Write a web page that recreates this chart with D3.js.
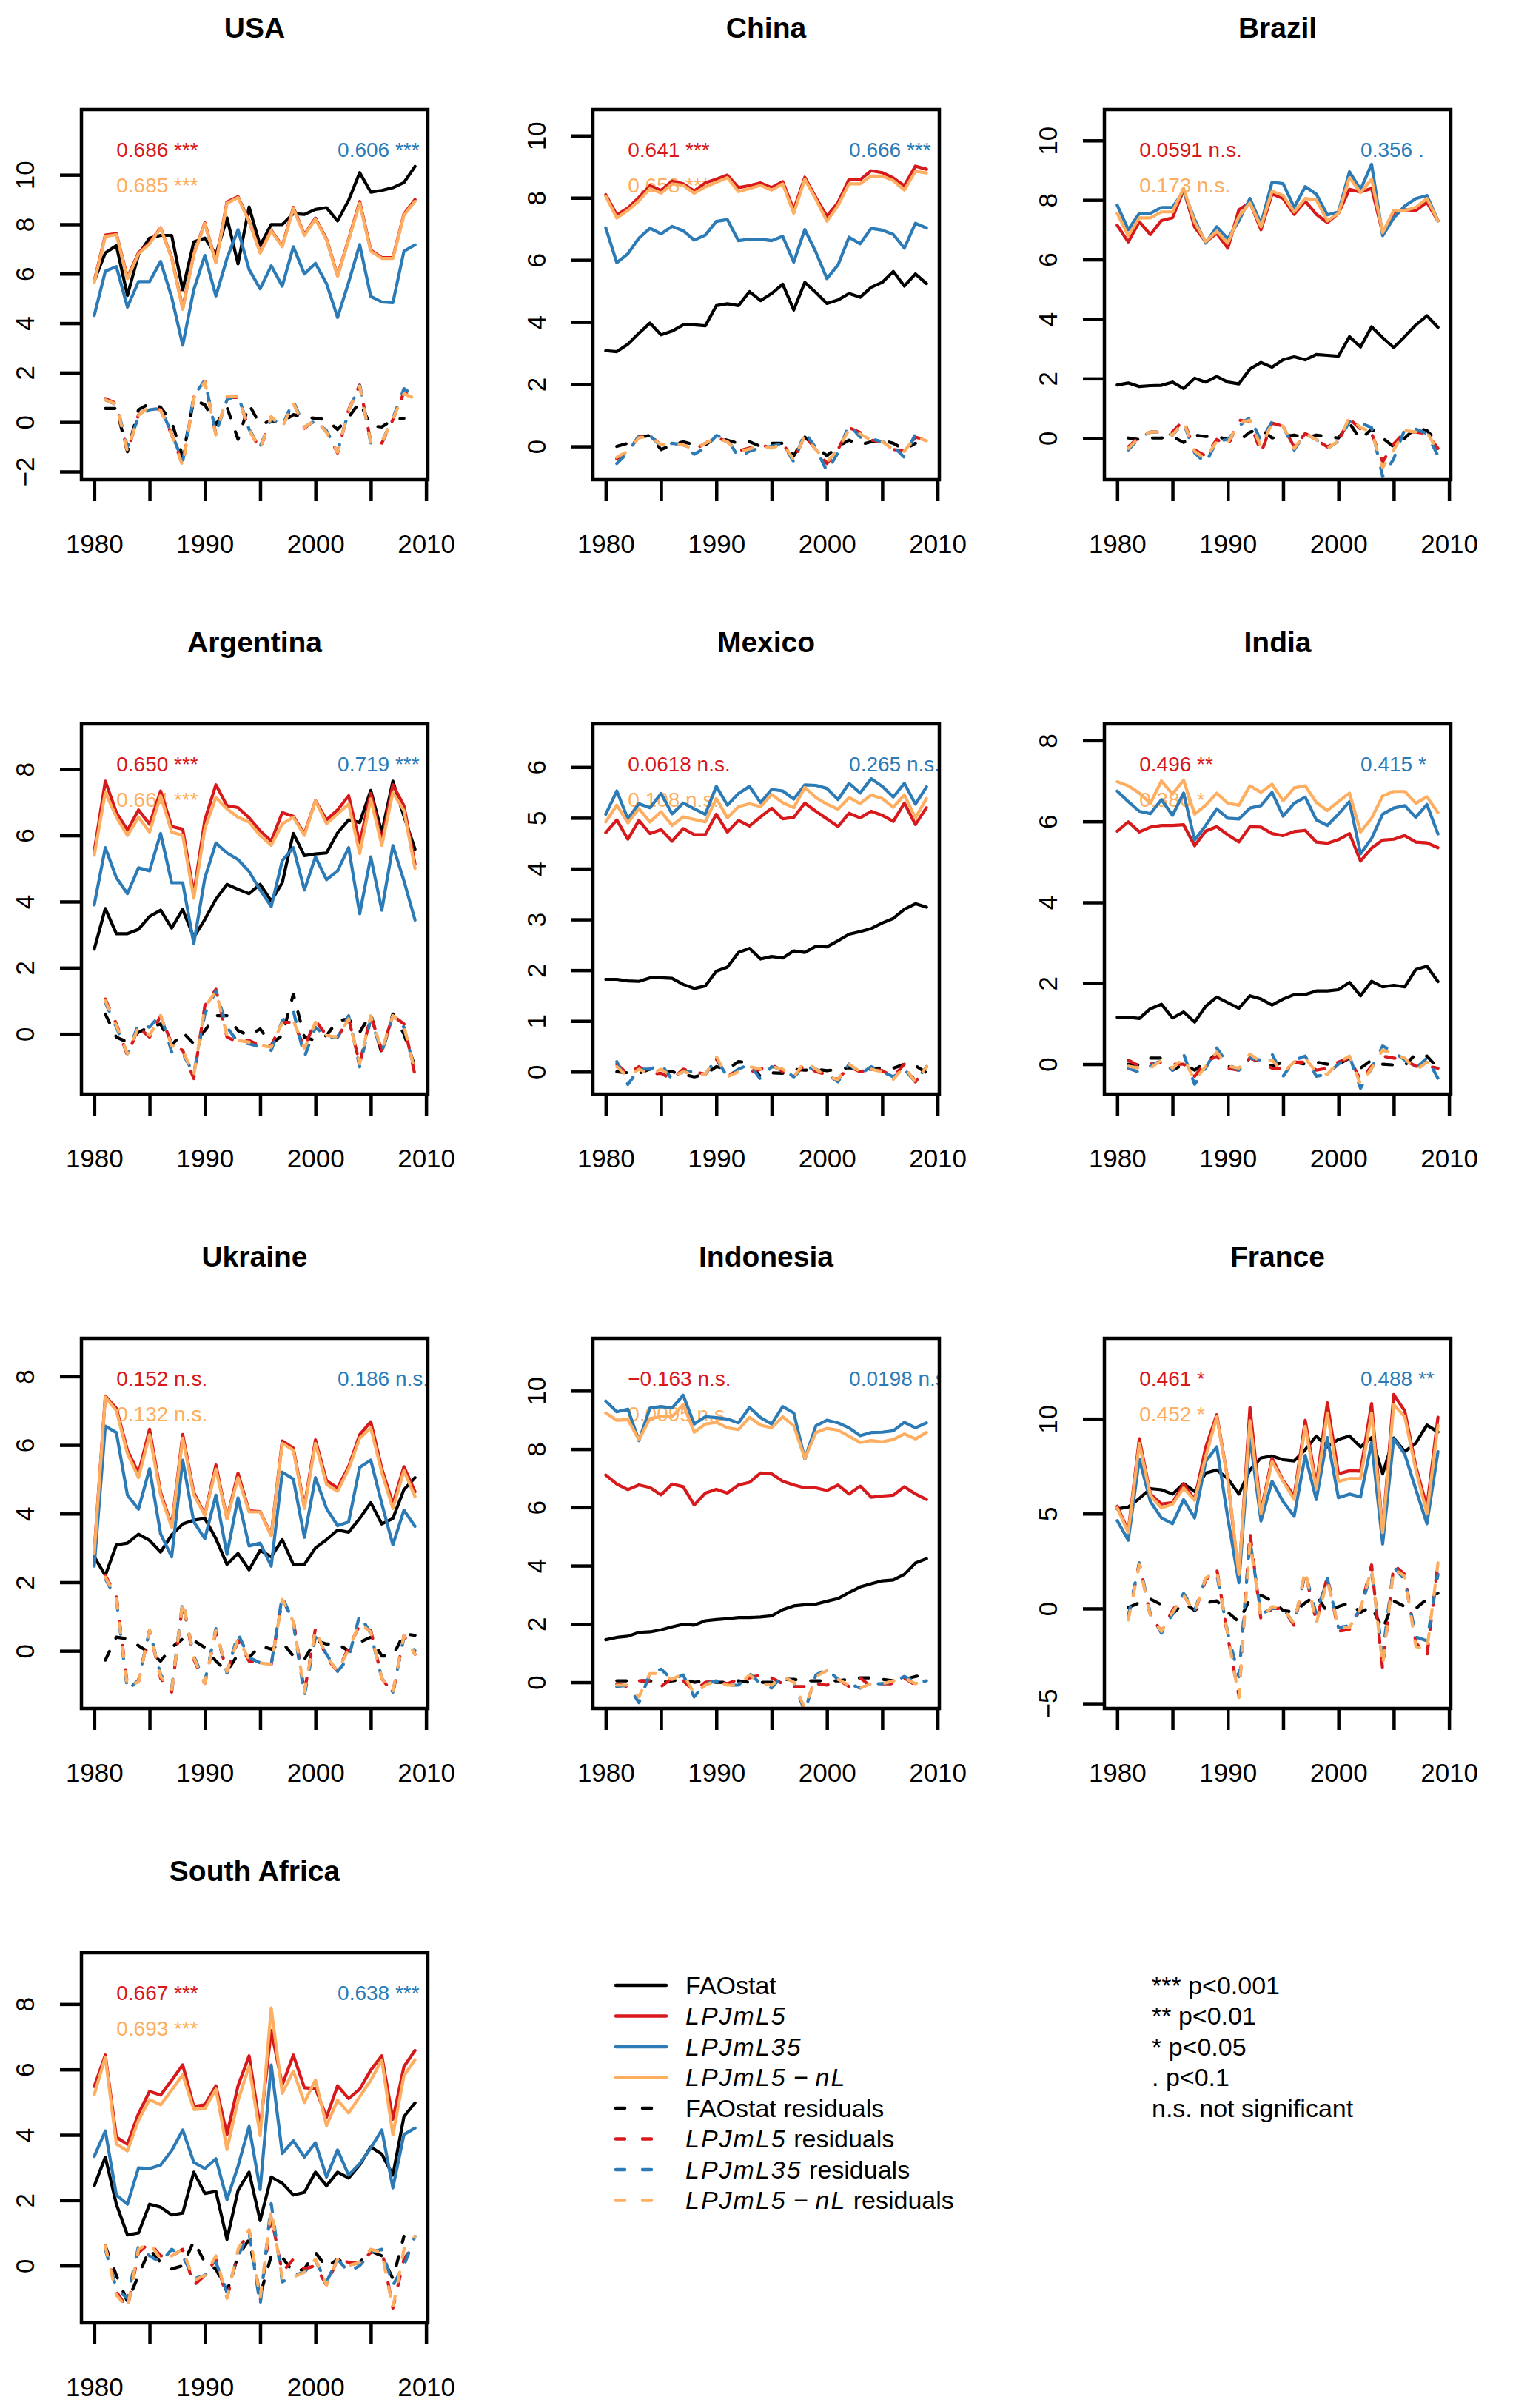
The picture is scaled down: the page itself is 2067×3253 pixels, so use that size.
<!DOCTYPE html>
<html>
<head>
<meta charset="utf-8">
<script src="https://cdn.jsdelivr.net/npm/d3@7/dist/d3.min.js"></script>
<style>
  body { margin: 0; background: #fff; }
  text { font-family: "Liberation Sans", Arial, Helvetica, sans-serif; }
</style>
</head>
<body>
<svg id="chart"></svg>
<script>
const countries = ["USA", "China", "Brazil", "Argentina", "Mexico", "India", "Ukraine", "Indonesia", "France", "South Africa"];
const years = [1980, 1981, 1982, 1983, 1984, 1985, 1986, 1987, 1988, 1989, 1990, 1991, 1992, 1993, 1994,
  1995, 1996, 1997, 1998, 1999, 2000, 2001, 2002, 2003, 2004, 2005, 2006, 2007, 2008, 2009];
const xTicks = [1980, 1985, 1990, 1995, 2000, 2005, 2010];
const xLabels = [1980, 1990, 2000, 2010];

// y limits and tick values, one entry per country
const yLimits = [[-2.33, 12.64], [-1.07, 10.84], [-1.40, 11.04], [-1.82, 9.37], [-0.44, 6.85],
  [-0.74, 8.41], [-1.68, 9.11], [-0.9, 11.8], [-5.27, 14.24], [-1.75, 9.57]];
const yTicks = [[-2, 0, 2, 4, 6, 8, 10], [0, 2, 4, 6, 8, 10], [0, 2, 4, 6, 8, 10], [0, 2, 4, 6, 8],
  [0, 1, 2, 3, 4, 5, 6], [0, 2, 4, 6, 8], [0, 2, 4, 6, 8], [0, 2, 4, 6, 8, 10], [-5, 0, 5, 10], [0, 2, 4, 6, 8]];

// correlation labels
const corrL5 = ["0.686 ***", "0.641 ***", "0.0591 n.s.", "0.650 ***", "0.0618 n.s.", "0.496 **", "0.152 n.s.", "\u22120.163 n.s.", "0.461 *", "0.667 ***"];
const corrL5nL = ["0.685 ***", "0.658 ***", "0.173 n.s.", "0.664 ***", "0.108 n.s.", "0.386 *", "0.132 n.s.", "0.0095 n.s.", "0.452 *", "0.693 ***"];
const corrL35 = ["0.606 ***", "0.666 ***", "0.356 .", "0.719 ***", "0.265 n.s.", "0.415 *", "0.186 n.s.", "0.0198 n.s.", "0.488 **", "0.638 ***"];

const faostat = [
  [5.72, 6.84, 7.14, 5.12, 6.77, 7.44, 7.55, 7.55, 5.35, 7.29, 7.44, 6.77, 8.26, 6.4, 8.7, 7.14, 7.99, 7.99, 8.43, 8.4, 8.6, 8.67, 8.14, 8.97, 10.09, 9.3, 9.37, 9.48, 9.69, 10.34],
  [3.08, 3.05, 3.29, 3.64, 3.97, 3.59, 3.71, 3.91, 3.91, 3.88, 4.53, 4.59, 4.53, 4.98, 4.69, 4.92, 5.22, 4.39, 5.28, 4.95, 4.6, 4.71, 4.92, 4.8, 5.12, 5.28, 5.63, 5.16, 5.55, 5.24],
  [1.78, 1.85, 1.73, 1.76, 1.77, 1.88, 1.66, 2.01, 1.88, 2.07, 1.88, 1.82, 2.32, 2.54, 2.38, 2.63, 2.73, 2.63, 2.81, 2.78, 2.75, 3.41, 3.06, 3.74, 3.37, 3.04, 3.41, 3.8, 4.11, 3.72],
  [2.56, 3.79, 3.03, 3.03, 3.16, 3.55, 3.74, 3.2, 3.76, 2.92, 3.46, 4.07, 4.52, 4.37, 4.24, 4.52, 4.02, 4.57, 6.06, 5.39, 5.44, 5.47, 6.08, 6.47, 6.39, 7.36, 6.08, 7.64, 6.58, 5.58],
  [1.82, 1.82, 1.79, 1.78, 1.85, 1.85, 1.84, 1.72, 1.64, 1.69, 1.98, 2.06, 2.35, 2.43, 2.22, 2.27, 2.24, 2.38, 2.35, 2.47, 2.46, 2.58, 2.71, 2.76, 2.82, 2.93, 3.02, 3.2, 3.31, 3.24],
  [1.16, 1.16, 1.13, 1.37, 1.48, 1.14, 1.29, 1.04, 1.43, 1.66, 1.52, 1.38, 1.69, 1.61, 1.46, 1.61, 1.72, 1.72, 1.81, 1.81, 1.84, 2.02, 1.69, 2.05, 1.91, 1.95, 1.91, 2.34, 2.42, 2.04],
  [2.74, 2.2, 3.09, 3.14, 3.4, 3.22, 2.88, 3.38, 3.7, 3.81, 3.86, 3.27, 2.52, 2.84, 2.36, 2.93, 2.74, 3.24, 2.52, 2.52, 3.0, 3.24, 3.52, 3.46, 3.86, 4.32, 3.7, 3.86, 4.7, 5.05],
  [1.46, 1.54, 1.58, 1.71, 1.73, 1.8, 1.9, 1.99, 1.96, 2.11, 2.15, 2.18, 2.22, 2.22, 2.24, 2.28, 2.49, 2.62, 2.66, 2.68, 2.78, 2.87, 3.08, 3.27, 3.38, 3.48, 3.51, 3.7, 4.09, 4.24],
  [5.25, 5.35, 5.8, 6.32, 6.26, 6.03, 6.58, 6.17, 7.14, 7.3, 6.85, 6.03, 7.3, 7.94, 8.04, 7.84, 7.78, 8.37, 9.09, 8.52, 8.91, 9.09, 8.52, 9.01, 7.1, 8.99, 8.27, 8.72, 9.67, 9.3],
  [2.44, 3.32, 1.88, 0.94, 1.0, 1.88, 1.79, 1.55, 1.61, 2.86, 2.21, 2.27, 0.8, 2.3, 2.86, 1.38, 2.71, 2.52, 2.16, 2.24, 2.86, 2.44, 2.86, 2.68, 3.08, 3.63, 3.41, 2.77, 4.56, 4.98]
];
const lpjml5 = [
  [5.7, 7.56, 7.62, 5.85, 6.85, 7.25, 7.86, 6.65, 4.6, 6.8, 8.06, 6.47, 8.9, 9.12, 8.14, 6.87, 7.76, 7.12, 8.68, 7.58, 8.25, 7.4, 5.93, 7.4, 8.92, 6.95, 6.65, 6.65, 8.42, 9.0],
  [8.1, 7.45, 7.67, 8.01, 8.39, 8.24, 8.54, 8.45, 8.22, 8.48, 8.6, 8.73, 8.33, 8.39, 8.48, 8.33, 8.52, 7.62, 8.66, 8.01, 7.41, 7.85, 8.6, 8.58, 8.87, 8.81, 8.64, 8.39, 9.02, 8.92],
  [7.15, 6.59, 7.27, 6.84, 7.31, 7.4, 8.33, 7.09, 6.59, 6.88, 6.38, 7.67, 7.92, 7.0, 8.2, 8.05, 7.52, 7.96, 7.52, 7.24, 7.55, 8.36, 8.27, 8.39, 6.9, 7.58, 7.67, 7.65, 7.92, 7.3],
  [5.52, 7.64, 6.69, 6.16, 6.77, 6.34, 7.34, 6.27, 6.19, 4.24, 6.47, 7.53, 6.9, 6.84, 6.53, 6.14, 5.83, 6.69, 6.58, 6.05, 7.05, 6.47, 6.77, 7.2, 5.78, 7.27, 5.82, 7.53, 6.9, 5.13],
  [4.71, 4.96, 4.58, 4.95, 4.69, 4.77, 4.54, 4.79, 4.67, 4.67, 5.07, 4.72, 4.95, 4.84, 5.02, 5.19, 4.98, 5.01, 5.29, 5.13, 4.98, 4.83, 5.09, 5.0, 5.13, 5.05, 4.93, 5.29, 4.87, 5.2],
  [5.76, 5.99, 5.74, 5.86, 5.9, 5.9, 5.92, 5.4, 5.76, 5.87, 5.67, 5.49, 5.87, 5.86, 5.7, 5.65, 5.75, 5.78, 5.49, 5.46, 5.55, 5.7, 5.02, 5.34, 5.54, 5.56, 5.65, 5.49, 5.47, 5.35],
  [2.9, 7.43, 7.07, 5.85, 5.18, 6.46, 4.62, 3.65, 6.31, 4.62, 3.97, 5.42, 3.86, 5.18, 4.08, 4.06, 3.38, 6.12, 5.91, 4.21, 6.15, 4.96, 4.75, 5.37, 6.3, 6.68, 5.31, 4.29, 5.37, 4.64],
  [7.11, 6.8, 6.61, 6.77, 6.68, 6.43, 6.8, 6.71, 6.08, 6.49, 6.62, 6.49, 6.77, 6.86, 7.18, 7.15, 6.9, 6.77, 6.67, 6.67, 6.58, 6.77, 6.46, 6.73, 6.35, 6.39, 6.42, 6.71, 6.46, 6.27],
  [5.39, 4.09, 8.95, 6.03, 5.51, 5.58, 6.56, 5.74, 8.5, 10.21, 6.81, 1.56, 10.6, 5.12, 7.92, 6.75, 5.93, 9.92, 6.52, 10.84, 7.1, 7.26, 7.24, 10.8, 4.09, 11.28, 10.41, 7.49, 5.35, 10.08],
  [5.48, 6.44, 3.93, 3.71, 4.65, 5.33, 5.22, 5.67, 6.14, 4.87, 4.92, 5.5, 4.01, 5.5, 6.42, 4.21, 7.19, 5.53, 6.44, 5.44, 5.42, 4.54, 5.5, 5.11, 5.4, 5.98, 6.42, 4.48, 6.09, 6.58]
];
const lpjml35 = [
  [4.31, 6.1, 6.29, 4.65, 5.68, 5.68, 6.5, 5.05, 3.11, 5.35, 6.74, 5.1, 6.62, 7.78, 6.17, 5.39, 6.32, 5.5, 7.09, 5.99, 6.42, 5.6, 4.23, 5.65, 7.18, 5.08, 4.86, 4.83, 6.91, 7.17],
  [7.03, 5.91, 6.2, 6.7, 7.02, 6.84, 7.08, 6.94, 6.64, 6.8, 7.24, 7.3, 6.62, 6.67, 6.67, 6.62, 6.76, 5.93, 6.98, 6.25, 5.4, 5.84, 6.73, 6.52, 7.02, 6.96, 6.82, 6.38, 7.18, 7.03],
  [7.83, 7.0, 7.55, 7.55, 7.75, 7.75, 8.3, 7.35, 6.55, 7.1, 6.7, 7.3, 8.05, 7.2, 8.6, 8.55, 7.75, 8.45, 8.2, 7.5, 7.6, 8.95, 8.35, 9.2, 6.8, 7.4, 7.8, 8.05, 8.15, 7.3],
  [3.9, 5.63, 4.72, 4.24, 5.02, 4.93, 6.06, 4.57, 4.57, 2.73, 4.71, 5.77, 5.47, 5.27, 4.91, 4.35, 3.85, 5.24, 5.63, 4.35, 5.35, 4.66, 4.93, 5.63, 3.63, 5.35, 3.74, 5.69, 4.63, 3.44],
  [5.07, 5.53, 4.98, 5.28, 5.2, 5.48, 5.08, 5.29, 5.18, 5.07, 5.62, 5.25, 5.48, 5.62, 5.3, 5.56, 5.53, 5.37, 5.65, 5.64, 5.58, 5.36, 5.68, 5.49, 5.77, 5.62, 5.41, 5.68, 5.27, 5.61],
  [6.75, 6.49, 6.25, 6.19, 6.54, 6.15, 6.7, 5.54, 5.9, 6.31, 6.08, 6.06, 6.33, 6.39, 6.72, 6.13, 6.45, 6.6, 6.04, 5.9, 6.18, 6.49, 5.2, 5.58, 6.18, 6.33, 6.39, 6.1, 6.42, 5.69],
  [2.47, 6.55, 6.36, 4.54, 4.13, 5.31, 3.41, 2.74, 5.56, 3.76, 3.27, 4.54, 2.81, 4.46, 3.06, 3.14, 2.47, 5.21, 5.01, 3.31, 5.05, 4.15, 3.65, 3.76, 5.35, 5.56, 4.29, 3.09, 4.1, 3.63],
  [9.65, 9.28, 9.37, 8.29, 9.41, 9.46, 9.41, 9.85, 8.86, 9.11, 9.08, 9.03, 8.9, 9.43, 9.08, 8.86, 9.46, 9.24, 7.66, 8.8, 8.99, 8.9, 8.73, 8.46, 8.57, 8.58, 8.63, 8.92, 8.73, 8.9],
  [4.63, 3.6, 7.88, 5.64, 4.77, 4.47, 5.74, 4.77, 7.74, 8.52, 4.77, 1.36, 9.05, 4.61, 6.71, 5.64, 4.86, 8.07, 5.74, 9.01, 5.84, 6.03, 5.88, 8.75, 3.4, 8.95, 8.13, 6.28, 4.47, 8.27],
  [3.34, 4.12, 2.16, 1.88, 2.99, 2.97, 3.08, 3.52, 4.15, 3.16, 2.97, 3.27, 2.02, 3.04, 4.26, 2.33, 6.14, 3.43, 3.82, 3.32, 3.76, 2.71, 3.54, 2.77, 3.12, 3.6, 4.15, 2.38, 4.01, 4.21]
];
const lpjml5nL = [
  [5.65, 7.51, 7.58, 5.8, 6.8, 7.21, 7.84, 6.62, 4.56, 6.77, 8.03, 6.44, 8.85, 9.08, 8.11, 6.84, 7.73, 7.09, 8.63, 7.55, 8.21, 7.36, 5.9, 7.36, 8.85, 6.91, 6.62, 6.62, 8.37, 8.93],
  [8.05, 7.35, 7.6, 7.9, 8.3, 8.15, 8.45, 8.4, 8.15, 8.35, 8.5, 8.65, 8.2, 8.3, 8.4, 8.25, 8.45, 7.5, 8.6, 7.95, 7.25, 7.75, 8.45, 8.45, 8.7, 8.7, 8.55, 8.25, 8.85, 8.8],
  [7.55, 6.8, 7.4, 7.4, 7.6, 7.6, 8.4, 7.25, 6.6, 6.95, 6.55, 7.45, 7.9, 7.1, 8.3, 8.15, 7.6, 8.05, 8.0, 7.3, 7.55, 8.75, 8.25, 8.7, 6.9, 7.65, 7.65, 7.75, 8.05, 7.3],
  [5.4, 7.3, 6.55, 6.0, 6.55, 6.1, 7.2, 6.1, 6.0, 4.1, 6.2, 7.15, 6.8, 6.55, 6.4, 6.0, 5.7, 6.35, 6.55, 6.0, 7.05, 6.35, 6.65, 6.95, 5.45, 7.1, 5.7, 7.3, 6.75, 5.0],
  [4.92, 5.25, 4.9, 5.18, 4.92, 5.12, 4.85, 5.02, 4.97, 4.92, 5.38, 5.0, 5.22, 5.28, 5.22, 5.46, 5.3, 5.2, 5.6, 5.4, 5.27, 5.17, 5.4, 5.28, 5.45, 5.38, 5.21, 5.45, 5.0, 5.38],
  [6.98, 6.88, 6.7, 6.45, 7.0, 6.68, 7.02, 6.18, 6.4, 6.7, 6.45, 6.4, 6.88, 6.72, 6.92, 6.51, 6.83, 6.88, 6.47, 6.27, 6.49, 6.7, 5.74, 6.08, 6.63, 6.74, 6.74, 6.45, 6.61, 6.22],
  [2.85, 7.4, 7.0, 5.75, 5.05, 6.3, 4.55, 3.6, 6.2, 4.55, 3.95, 5.3, 3.85, 5.05, 4.05, 4.05, 3.35, 6.05, 5.85, 4.15, 6.05, 4.85, 4.65, 5.3, 6.2, 6.5, 5.2, 4.15, 5.25, 4.5],
  [9.24, 8.99, 9.01, 8.32, 9.05, 9.11, 9.11, 9.53, 8.58, 8.86, 8.92, 8.73, 8.67, 9.09, 8.82, 8.73, 9.11, 8.8, 7.68, 8.57, 8.71, 8.65, 8.44, 8.23, 8.29, 8.25, 8.33, 8.52, 8.35, 8.57],
  [5.3, 4.0, 8.7, 5.95, 5.3, 5.5, 6.35, 5.7, 8.0, 10.1, 6.8, 1.8, 9.9, 5.0, 7.75, 6.7, 5.75, 9.6, 6.3, 10.3, 6.7, 6.85, 6.85, 10.3, 4.0, 10.75, 10.1, 7.3, 5.0, 9.65],
  [5.23, 6.38, 3.72, 3.51, 4.45, 5.08, 4.92, 5.37, 5.84, 4.78, 4.8, 5.4, 3.55, 5.05, 6.1, 3.98, 7.88, 5.27, 5.95, 4.99, 5.68, 4.28, 5.06, 4.67, 5.17, 5.67, 6.29, 4.0, 5.81, 6.3]
];

// residuals (no value for 1980)
const faostatRes = [
  [null, 0.55, 0.55, -1.2, 0.5, 0.75, 0.6, 0.0, -1.4, 0.9, 0.7, -0.1, 0.6, -0.7, 0.7, -0.1, 0.05, 0.0, 0.3, 0.2, 0.15, 0.1, -0.3, 0.2, 0.8, -0.15, -0.2, 0.1, 0.15, null],
  [null, 0.0, 0.1, 0.3, 0.35, -0.1, 0.05, 0.15, 0.05, 0.05, 0.3, 0.2, 0.1, 0.15, 0.0, 0.1, 0.1, -0.3, 0.3, 0.0, -0.3, 0.0, 0.2, 0.05, 0.15, 0.2, 0.1, -0.1, 0.1, null],
  [null, 0.0, -0.05, 0.0, 0.0, 0.05, -0.15, 0.1, 0.05, 0.05, -0.05, -0.1, 0.2, 0.3, 0.0, 0.05, 0.1, 0.0, 0.1, 0.05, 0.0, 0.5, -0.05, 0.3, 0.0, -0.3, 0.0, 0.35, 0.25, -0.15],
  [null, 0.6, -0.1, -0.25, 0.05, 0.2, 0.3, -0.35, 0.05, -0.3, 0.1, 0.55, 0.55, 0.1, -0.05, 0.15, -0.3, -0.05, 1.2, -0.1, -0.2, -0.05, 0.4, 0.45, 0.05, 0.6, -0.6, 0.6, 0.0, -1.0],
  [null, 0.0, -0.02, -0.03, 0.05, 0.02, 0.0, -0.05, -0.1, -0.05, 0.1, 0.05, 0.2, 0.18, -0.1, -0.02, -0.03, 0.05, 0.03, 0.05, 0.02, 0.05, 0.08, 0.05, 0.05, 0.08, 0.07, 0.15, 0.12, -0.02],
  [null, 0.0, -0.02, 0.15, 0.15, -0.15, 0.0, -0.15, 0.05, 0.25, -0.05, -0.15, 0.15, 0.05, -0.05, 0.05, 0.05, 0.0, 0.05, 0.0, 0.0, 0.15, -0.1, 0.1, 0.0, -0.02, -0.03, 0.25, 0.2, -0.1],
  [null, -0.27, 0.4, 0.35, 0.15, -0.05, -0.3, 0.1, 0.35, 0.3, 0.1, -0.3, -0.6, -0.1, -0.2, 0.15, 0.05, 0.25, -0.15, -0.25, 0.3, 0.2, 0.2, 0.0, 0.25, 0.4, -0.15, -0.15, 0.5, 0.45],
  [null, 0.05, 0.05, 0.05, 0.05, 0.0, 0.05, 0.1, 0.0, 0.05, 0.0, 0.0, 0.05, 0.0, 0.0, 0.0, 0.1, 0.1, 0.05, 0.05, 0.05, 0.05, 0.1, 0.15, 0.15, 0.1, 0.05, 0.1, 0.2, 0.25],
  [null, 0.05, 0.3, 0.5, 0.2, -0.3, 0.3, -0.1, 0.3, 0.4, -0.2, -0.7, 0.5, 0.7, 0.4, -0.1, -0.2, 0.3, 0.7, -0.2, 0.1, 0.3, -0.2, 0.1, -1.1, 0.4, 0.1, 0.0, 0.5, 0.8],
  [null, 0.6, -0.3, -1.1, -0.3, 0.5, 0.1, -0.1, 0.0, 0.75, 0.1, -0.1, -0.8, 0.3, 0.8, -0.9, 0.3, 0.25, -0.2, -0.1, 0.4, -0.05, 0.2, 0.0, 0.1, 0.45, 0.3, -0.4, 0.9, null]
];
const lpjml5Res = [
  [null, 0.95, 0.75, -1.2, 0.3, 0.6, 0.5, -0.5, -1.75, 1.0, 1.65, -0.5, 1.0, 1.0, -0.3, -1.1, 0.2, -0.2, 0.8, -0.25, 0.1, -0.4, -1.25, 0.5, 1.5, -0.8, -0.85, 0.1, 1.2, 1.0],
  [null, -0.4, -0.15, 0.3, 0.35, 0.05, 0.1, 0.05, -0.1, 0.1, 0.3, 0.15, -0.15, -0.05, 0.05, -0.05, 0.1, -0.45, 0.35, -0.1, -0.55, -0.1, 0.6, 0.45, 0.2, 0.15, -0.1, -0.15, 0.3, 0.2],
  [null, -0.3, 0.05, 0.2, 0.2, 0.2, 0.6, -0.4, -0.6, -0.05, -0.25, 0.6, 0.55, -0.5, 0.5, 0.4, -0.3, 0.15, -0.05, -0.3, -0.1, 0.65, 0.3, 0.15, -0.8, -0.2, 0.2, 0.2, 0.15, -0.35],
  [null, 1.05, 0.3, -0.65, 0.2, -0.1, 0.55, -0.3, -0.5, -1.35, 0.85, 1.35, -0.1, -0.25, -0.2, -0.35, -0.35, 0.35, 0.35, -0.4, 0.4, -0.05, -0.1, 0.45, -0.9, 0.55, -0.5, 0.55, 0.3, -1.25],
  [null, 0.15, -0.05, 0.1, -0.05, -0.03, -0.15, 0.05, 0.0, -0.05, 0.25, -0.1, 0.05, 0.0, 0.05, 0.15, 0.0, -0.1, 0.15, 0.0, -0.05, -0.15, 0.1, 0.0, 0.05, 0.02, -0.1, 0.15, -0.2, 0.1],
  [null, 0.1, -0.05, 0.0, 0.05, 0.0, 0.0, -0.3, 0.05, 0.2, -0.1, -0.15, 0.15, 0.05, -0.1, -0.1, 0.05, 0.05, -0.15, -0.1, 0.05, 0.15, -0.4, -0.05, 0.2, 0.15, 0.1, -0.05, -0.05, -0.1],
  [null, 2.2, 1.6, -1.0, -0.9, 0.6, -0.8, -1.2, 1.4, -0.25, -0.95, 0.55, -0.6, 0.3, -0.3, -0.35, -0.4, 1.5, 0.9, -1.2, 0.65, -0.2, -0.6, 0.1, 0.75, 0.6, -0.8, -1.25, 0.45, -0.1],
  [null, -0.05, -0.15, 0.05, 0.05, -0.15, 0.15, 0.05, -0.3, 0.0, 0.05, -0.05, 0.1, 0.15, 0.25, 0.15, -0.05, -0.15, -0.15, -0.05, -0.1, 0.1, -0.15, 0.15, -0.15, -0.05, -0.05, 0.15, -0.1, -0.1],
  [null, -0.5, 2.4, -0.4, -1.2, -0.1, 0.7, -0.2, 1.5, 2.1, -1.5, -4.6, 4.0, -0.6, 0.0, 0.0, -0.9, 1.9, -0.7, 1.7, -1.2, -1.1, 0.0, 2.3, -3.2, 2.3, 1.8, -1.8, -2.5, 2.4],
  [null, 0.6, -0.8, -1.3, 0.4, 0.7, 0.3, 0.3, 0.5, -0.6, -0.3, 0.2, -1.0, 0.4, 1.1, -1.1, 1.5, -0.2, 0.2, -0.1, 0.0, -0.6, 0.2, 0.1, 0.1, 0.4, 0.5, -1.3, 0.2, 0.7]
];
const lpjml35Res = [
  [null, 0.9, 0.7, -1.0, 0.2, 0.5, 0.55, -0.45, -1.6, 1.05, 1.7, -0.45, 0.9, 1.1, -0.3, -1.0, 0.15, -0.15, 0.85, -0.2, 0.05, -0.35, -1.2, 0.45, 1.5, -0.85, -0.8, 0.15, 1.35, 1.05],
  [null, -0.55, -0.2, 0.35, 0.35, 0.0, 0.1, 0.05, -0.25, -0.05, 0.35, 0.25, -0.35, -0.15, -0.05, 0.0, 0.1, -0.5, 0.45, -0.05, -0.8, -0.2, 0.7, 0.3, 0.25, 0.15, 0.0, -0.35, 0.4, 0.2],
  [null, -0.4, 0.0, 0.2, 0.2, 0.1, 0.5, -0.5, -0.85, -0.1, -0.05, 0.4, 0.7, -0.1, 0.55, 0.4, -0.4, 0.15, -0.05, -0.35, -0.1, 0.55, 0.5, 0.35, -1.3, -0.7, 0.3, 0.3, 0.15, -0.6],
  [null, 0.95, 0.2, -0.6, 0.3, 0.2, 0.6, -0.55, -0.6, -1.2, 0.6, 1.3, 0.2, -0.25, -0.3, -0.4, -0.5, 0.4, 0.7, -0.7, 0.2, -0.1, -0.1, 0.55, -1.0, 0.45, -0.55, 0.55, 0.2, -1.15],
  [null, 0.2, -0.25, 0.05, 0.05, 0.15, -0.15, 0.0, 0.0, -0.05, 0.25, -0.1, 0.05, 0.15, -0.15, 0.1, 0.05, -0.1, 0.1, 0.05, -0.05, -0.2, 0.15, -0.05, 0.1, 0.0, -0.1, 0.05, -0.2, 0.1],
  [null, -0.1, -0.2, -0.05, 0.1, -0.15, 0.25, -0.5, -0.1, 0.4, 0.0, -0.15, 0.15, 0.1, 0.25, -0.3, 0.1, 0.2, -0.3, -0.25, 0.0, 0.2, -0.6, -0.1, 0.45, 0.3, 0.1, -0.1, 0.15, -0.35],
  [null, 2.1, 1.5, -1.15, -0.85, 0.6, -0.7, -1.1, 1.45, -0.15, -0.9, 0.65, -0.65, 0.5, -0.2, -0.35, -0.4, 1.6, 0.8, -1.3, 0.4, -0.1, -0.6, -0.2, 1.05, 0.5, -0.8, -1.2, 0.4, 0.0],
  [null, -0.15, -0.1, -0.7, 0.3, 0.45, 0.1, 0.25, -0.5, -0.05, 0.05, -0.1, -0.1, 0.3, -0.05, -0.2, 0.25, 0.0, -1.0, 0.25, 0.45, 0.1, -0.05, -0.2, -0.05, -0.05, 0.0, 0.2, 0.0, 0.05],
  [null, -0.4, 2.4, -0.3, -1.3, -0.3, 0.8, -0.1, 1.6, 1.8, -1.3, -3.6, 3.6, -0.3, 0.0, 0.0, -0.8, 1.9, -0.3, 1.6, -1.0, -0.9, 0.0, 1.9, -2.4, 2.2, 1.5, -1.5, -1.7, 1.8],
  [null, 0.5, -0.7, -1.0, 0.6, 0.3, 0.1, 0.5, 0.3, -0.4, -0.3, 0.1, -0.8, 0.3, 1.0, -1.2, 1.9, -0.5, -0.3, -0.2, 0.15, -0.5, 0.2, -0.2, 0.0, 0.4, 0.5, -0.6, 0.0, 0.9]
];
const lpjml5nLRes = [
  [null, 0.9, 0.72, -1.18, 0.28, 0.62, 0.48, -0.52, -1.78, 0.98, 1.62, -0.52, 1.05, 1.05, -0.32, -1.08, 0.22, -0.22, 0.78, -0.22, 0.08, -0.42, -1.22, 0.48, 1.45, -0.82, -0.82, 0.12, 1.15, 0.95],
  [null, -0.35, -0.15, 0.28, 0.33, 0.05, 0.08, 0.05, -0.1, 0.1, 0.28, 0.15, -0.18, -0.08, 0.03, -0.05, 0.08, -0.42, 0.33, -0.1, -0.5, -0.1, 0.55, 0.4, 0.2, 0.15, -0.1, -0.15, 0.3, 0.18],
  [null, -0.35, 0.02, 0.2, 0.2, 0.1, 0.55, -0.45, -0.7, -0.1, -0.15, 0.5, 0.6, -0.3, 0.5, 0.4, -0.35, 0.15, -0.05, -0.35, -0.1, 0.7, 0.35, 0.2, -1.0, -0.4, 0.25, 0.2, 0.2, -0.45],
  [null, 1.0, 0.25, -0.6, 0.2, -0.05, 0.55, -0.35, -0.5, -1.25, 0.8, 1.3, -0.05, -0.2, -0.25, -0.35, -0.4, 0.35, 0.4, -0.45, 0.35, -0.05, -0.1, 0.45, -0.9, 0.55, -0.5, 0.55, 0.25, -1.15],
  [null, 0.1, -0.1, 0.05, -0.05, 0.05, -0.1, 0.0, -0.05, -0.05, 0.3, -0.1, 0.0, 0.1, 0.05, 0.1, 0.05, -0.1, 0.2, 0.05, -0.1, -0.15, 0.15, 0.0, 0.05, 0.0, -0.15, 0.1, -0.2, 0.1],
  [null, -0.05, -0.1, -0.1, 0.1, -0.1, 0.15, -0.4, -0.05, 0.3, -0.05, -0.1, 0.25, 0.05, 0.1, -0.2, 0.05, 0.15, -0.2, -0.25, 0.05, 0.2, -0.5, -0.1, 0.35, 0.25, 0.15, -0.15, 0.05, -0.2],
  [null, 2.15, 1.55, -1.05, -0.9, 0.6, -0.75, -1.15, 1.45, -0.2, -0.95, 0.6, -0.6, 0.35, -0.25, -0.35, -0.4, 1.5, 0.85, -1.2, 0.6, -0.15, -0.6, 0.05, 0.8, 0.55, -0.8, -1.2, 0.45, -0.1],
  [null, -0.1, -0.1, -0.5, 0.3, 0.3, 0.1, 0.3, -0.4, -0.1, 0.05, -0.1, -0.1, 0.25, -0.05, -0.1, 0.2, 0.0, -0.9, 0.2, 0.4, 0.1, -0.1, -0.2, -0.05, -0.05, 0.05, 0.15, -0.05, 0.1],
  [null, -0.6, 2.3, -0.4, -1.2, -0.2, 0.7, -0.2, 1.6, 2.0, -1.4, -4.7, 3.5, -0.5, 0.1, 0.0, -0.8, 2.0, -0.8, 1.5, -1.0, -1.0, 0.0, 2.1, -3.0, 2.1, 1.7, -2.0, -2.2, 2.4],
  [null, 0.6, -0.9, -1.3, 0.5, 0.7, 0.2, 0.3, 0.5, -0.45, -0.3, 0.3, -1.0, 0.5, 1.1, -1.0, 1.7, -0.4, -0.35, -0.2, 0.2, -0.6, 0.2, 0.0, 0.1, 0.5, 0.4, -1.3, 0.5, 0.9]
];

const RED = "#D7191C", BLUE = "#2C7BB6", ORANGE = "#FDAE61";

const W = 2067, H = 3253;
const colW = 691, rowH = 830;
const boxL = 110, boxT = 148, bw = 468, bh = 500;

const svg = d3.select("#chart").attr("width", W).attr("height", H);
svg.append("rect").attr("width", W).attr("height", H).attr("fill", "#fff");

const x = d3.scaleLinear().domain([1978.84, 2010.16]).range([0, bw]);

const series = [
  { data: faostat, color: "#000", dash: null },
  { data: lpjml5, color: RED, dash: null },
  { data: lpjml35, color: BLUE, dash: null },
  { data: lpjml5nL, color: ORANGE, dash: null },
  { data: faostatRes, color: "#000", dash: "13,20" },
  { data: lpjml5Res, color: RED, dash: "13,20" },
  { data: lpjml35Res, color: BLUE, dash: "13,20" },
  { data: lpjml5nLRes, color: ORANGE, dash: "13,20" }
];

countries.forEach(function(name, i) {
  const col = i % 3, row = Math.floor(i / 3);
  const g = svg.append("g")
    .attr("transform", "translate(" + (col * colW + boxL) + "," + (row * rowH + boxT) + ")");
  const y = d3.scaleLinear().domain(yLimits[i]).range([bh, 0]);

  g.append("text")
    .attr("x", bw / 2).attr("y", -97)
    .attr("text-anchor", "middle")
    .style("font-size", "39px").style("font-weight", "bold")
    .text(name);

  g.append("clipPath").attr("id", "clip" + i)
    .append("rect").attr("width", bw).attr("height", bh);
  const plot = g.append("g").attr("clip-path", "url(#clip" + i + ")");

  // correlation labels
  const lab = function(txt, xv, yy, color) {
    plot.append("text").attr("x", x(xv)).attr("y", yy)
      .attr("fill", color).style("font-size", "28px").text(txt);
  };
  lab(corrL5[i], 1982, 64, RED);
  lab(corrL5nL[i], 1982, 112, ORANGE);
  lab(corrL35[i], 2002, 64, BLUE);

  const line = d3.line()
    .defined(function(d) { return d[1] != null; })
    .x(function(d) { return x(d[0]); })
    .y(function(d) { return y(d[1]); });

  series.forEach(function(s) {
    plot.append("path")
      .datum(years.map(function(yr, k) { return [yr, s.data[i][k]]; }))
      .attr("d", line)
      .attr("fill", "none")
      .attr("stroke", s.color)
      .attr("stroke-width", 4.2)
      .attr("stroke-linejoin", "round")
      .attr("stroke-linecap", "round")
      .attr("stroke-dasharray", s.dash);
  });

  // x axis
  const xa = g.append("g").attr("transform", "translate(0," + bh + ")")
    .call(d3.axisBottom(x).tickValues(xTicks).tickSize(29).tickPadding(45)
      .tickFormat(function(d) { return xLabels.indexOf(d) >= 0 ? d : ""; }));
  // y axis
  const ya = g.append("g")
    .call(d3.axisLeft(y).tickValues(yTicks[i]).tickSize(29)
      .tickFormat(function(d) { return d < 0 ? "\u2212" + Math.abs(d) : d; }));
  ya.selectAll("text")
    .attr("x", null).attr("dy", "0.35em")
    .attr("text-anchor", "middle")
    .attr("transform", "translate(-76,0) rotate(-90)");
  [xa, ya].forEach(function(a) {
    a.select(".domain").remove();
    a.selectAll("line").attr("stroke", "#000").attr("stroke-width", 4.5);
    a.selectAll("text").attr("fill", "#000")
      .style("font-size", "35px")
      .style("font-family", "'Liberation Sans', Arial, sans-serif");
  });

  g.append("rect").attr("width", bw).attr("height", bh)
    .attr("fill", "none").attr("stroke", "#000").attr("stroke-width", 4.5);
});

// legend
const legendItems = [
  { parts: [["FAOstat", false]], color: "#000", dash: null },
  { parts: [["LPJmL5", true]], color: RED, dash: null },
  { parts: [["LPJmL35", true]], color: BLUE, dash: null },
  { parts: [["LPJmL5", true], [" \u2212 ", false], ["nL", true]], color: ORANGE, dash: null },
  { parts: [["FAOstat residuals", false]], color: "#000", dash: "12,24" },
  { parts: [["LPJmL5", true], [" residuals", false]], color: RED, dash: "12,24" },
  { parts: [["LPJmL35", true], [" residuals", false]], color: BLUE, dash: "12,24" },
  { parts: [["LPJmL5", true], [" \u2212 ", false], ["nL", true], [" residuals", false]], color: ORANGE, dash: "12,24" }
];
const sigLabels = ["*** p<0.001", "** p<0.01", "* p<0.05", ". p<0.1", "n.s. not significant"];

const leg = svg.append("g");
legendItems.forEach(function(it, k) {
  const yy = 2682 + k * 41.5;
  leg.append("line")
    .attr("x1", 832).attr("x2", 900).attr("y1", yy).attr("y2", yy)
    .attr("stroke", it.color).attr("stroke-width", 4.5)
    .attr("stroke-linecap", "round")
    .attr("stroke-dasharray", it.dash);
  const t = leg.append("text").attr("x", 926).attr("y", yy).attr("dy", "0.35em")
    .style("font-size", "34px");
  it.parts.forEach(function(p) {
    t.append("tspan")
      .style("font-style", p[1] ? "italic" : "normal")
      .style("letter-spacing", p[1] ? "2px" : "0px")
      .text(p[0]);
  });
});
sigLabels.forEach(function(s, k) {
  leg.append("text").attr("x", 1556).attr("y", 2682 + k * 41.5).attr("dy", "0.35em")
    .style("font-size", "34px").text(s);
});
</script>
</body>
</html>
